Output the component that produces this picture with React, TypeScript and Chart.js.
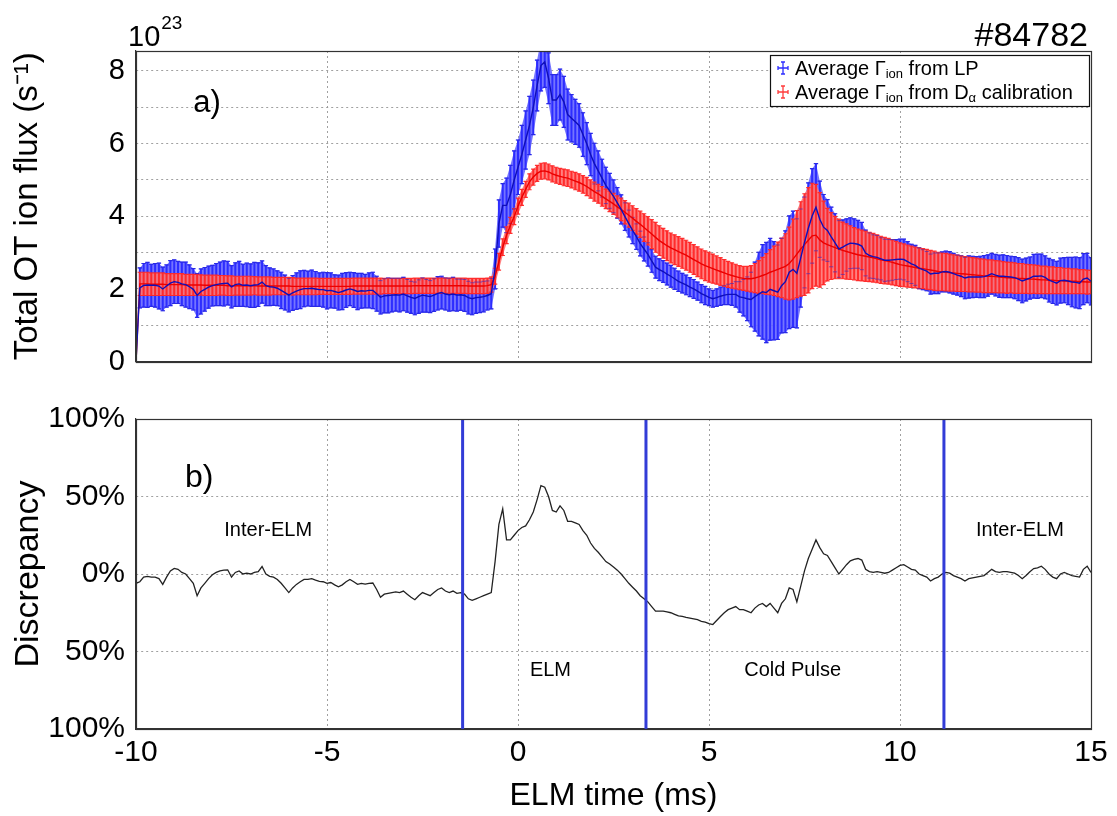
import React, { useEffect, useRef } from 'react';
import { Chart, registerables } from 'chart.js';

Chart.register(...registerables);

// ---------------- data ----------------
// sampling grid of the averaged ELM time (ms)
const T_START = -10;
const T_STEP = 0.1;

// Average ion flux from Langmuir probes (1e23 s^-1)
const LP_MEAN = [
  0, 2.03, 2.10, 2.11, 2.10, 2.10, 2.08, 2.00, 2.08, 2.16,
  2.20, 2.18, 2.14, 2.12, 2.06, 1.99, 1.82, 1.93, 1.99, 2.05,
  2.09, 2.12, 2.14, 2.15, 2.16, 2.06, 2.12, 2.14, 2.10, 2.11,
  2.09, 2.11, 2.12, 2.19, 2.09, 2.06, 2.05, 2.02, 1.96, 1.90,
  1.83, 1.89, 1.94, 1.98, 2.01, 2.01, 2.02, 2.00, 1.98, 1.98,
  1.95, 1.96, 1.93, 1.90, 1.93, 1.97, 2.00, 1.97, 1.93, 1.95,
  1.94, 1.96, 1.96, 1.87, 1.77, 1.81, 1.82, 1.83, 1.84, 1.83,
  1.86, 1.81, 1.77, 1.74, 1.79, 1.83, 1.81, 1.79, 1.83, 1.88,
  1.90, 1.86, 1.84, 1.86, 1.83, 1.84, 1.82, 1.76, 1.73, 1.76,
  1.77, 1.79, 1.82, 1.87, 2.55, 3.80, 4.30, 4.30, 4.60, 5.00,
  5.35, 5.70, 6.10, 6.50, 7.00, 7.60, 8.15, 8.25, 7.80, 7.20,
  7.20, 7.35, 7.15, 6.80, 6.70, 6.60, 6.50, 6.25, 6.00, 5.70,
  5.45, 5.25, 5.05, 4.85, 4.70, 4.55, 4.37, 4.19, 3.99, 3.80,
  3.61, 3.44, 3.25, 3.10, 2.95, 2.77, 2.60, 2.53, 2.48, 2.41,
  2.35, 2.28, 2.21, 2.16, 2.11, 2.05, 2.00, 1.94, 1.87, 1.82,
  1.77, 1.73, 1.76, 1.80, 1.83, 1.85, 1.85, 1.85, 1.78, 1.76,
  1.73, 1.71, 1.79, 1.86, 1.92, 1.90, 1.99, 1.95, 1.91, 2.09,
  2.20, 2.46, 2.54, 2.43, 2.85, 3.28, 3.67, 4.01, 4.25, 3.92,
  3.70, 3.61, 3.43, 3.27, 3.10, 3.15, 3.21, 3.26, 3.25, 3.23,
  3.18, 2.99, 2.92, 2.89, 2.87, 2.83, 2.79, 2.79, 2.80, 2.81,
  2.82, 2.81, 2.75, 2.69, 2.65, 2.57, 2.53, 2.49, 2.41, 2.43,
  2.43, 2.47, 2.48, 2.46, 2.42, 2.38, 2.35, 2.30, 2.33, 2.33,
  2.33, 2.33, 2.34, 2.37, 2.42, 2.38, 2.35, 2.35, 2.34, 2.33,
  2.31, 2.27, 2.22, 2.26, 2.30, 2.35, 2.35, 2.36, 2.32, 2.24,
  2.20, 2.16, 2.23, 2.24, 2.22, 2.19, 2.18, 2.16, 2.27, 2.30,
  2.21,
];

const LP_ERR = [
  0, 0.55, 0.60, 0.62, 0.58, 0.60, 0.63, 0.60, 0.58, 0.62,
  0.60, 0.58, 0.60, 0.62, 0.60, 0.57, 0.60, 0.62, 0.60, 0.58,
  0.56, 0.58, 0.60, 0.62, 0.60, 0.58, 0.60, 0.62, 0.58, 0.60,
  0.60, 0.62, 0.60, 0.58, 0.55, 0.52, 0.50, 0.48, 0.50, 0.48,
  0.46, 0.48, 0.50, 0.52, 0.50, 0.48, 0.50, 0.48, 0.46, 0.48,
  0.50, 0.48, 0.46, 0.48, 0.50, 0.48, 0.46, 0.48, 0.50, 0.48,
  0.46, 0.48, 0.50, 0.48, 0.46, 0.47, 0.48, 0.46, 0.45, 0.46,
  0.46, 0.45, 0.44, 0.45, 0.46, 0.47, 0.45, 0.44, 0.45, 0.46,
  0.45, 0.44, 0.45, 0.46, 0.44, 0.43, 0.44, 0.45, 0.44, 0.43,
  0.42, 0.42, 0.40, 0.42, 0.55, 0.65, 0.60, 0.75, 0.80, 0.80,
  0.75, 0.80, 0.80, 0.80, 0.75, 0.70, 0.70, 0.70, 0.70, 0.70,
  0.70, 0.70, 0.70, 0.70, 0.65, 0.62, 0.60, 0.60, 0.58, 0.58,
  0.56, 0.55, 0.52, 0.50, 0.48, 0.45, 0.42, 0.40, 0.38, 0.37,
  0.36, 0.35, 0.34, 0.33, 0.32, 0.31, 0.30, 0.30, 0.30, 0.30,
  0.30, 0.29, 0.28, 0.27, 0.27, 0.26, 0.26, 0.25, 0.25, 0.25,
  0.23, 0.23, 0.24, 0.25, 0.26, 0.28, 0.30, 0.35, 0.42, 0.50,
  0.60, 0.75, 0.95, 1.15, 1.30, 1.38, 1.40, 1.35, 1.30, 1.30,
  1.40, 1.55, 1.60, 1.50, 1.35, 1.25, 1.25, 1.30, 1.20, 1.05,
  0.90, 0.85, 0.82, 0.80, 0.78, 0.75, 0.72, 0.70, 0.68, 0.66,
  0.65, 0.63, 0.62, 0.60, 0.60, 0.58, 0.58, 0.57, 0.56, 0.55,
  0.55, 0.56, 0.55, 0.54, 0.55, 0.56, 0.55, 0.54, 0.55, 0.56,
  0.56, 0.55, 0.56, 0.57, 0.56, 0.55, 0.56, 0.57, 0.58, 0.57,
  0.56, 0.57, 0.58, 0.57, 0.56, 0.57, 0.58, 0.59, 0.58, 0.57,
  0.58, 0.59, 0.60, 0.59, 0.58, 0.60, 0.61, 0.60, 0.59, 0.60,
  0.60, 0.60, 0.62, 0.62, 0.65, 0.68, 0.70, 0.70, 0.70, 0.68,
  0.65,
];

// Average ion flux from D-alpha calibration (1e23 s^-1)
const DA_MEAN = [
  0, 2.14, 2.14, 2.14, 2.13, 2.13, 2.13, 2.13, 2.12, 2.12,
  2.12, 2.12, 2.12, 2.11, 2.11, 2.11, 2.11, 2.11, 2.10, 2.10,
  2.10, 2.10, 2.10, 2.10, 2.09, 2.09, 2.09, 2.09, 2.09, 2.09,
  2.09, 2.09, 2.08, 2.08, 2.08, 2.08, 2.08, 2.08, 2.08, 2.08,
  2.08, 2.07, 2.07, 2.07, 2.07, 2.07, 2.07, 2.07, 2.07, 2.07,
  2.07, 2.07, 2.07, 2.07, 2.07, 2.07, 2.07, 2.08, 2.08, 2.08,
  2.08, 2.08, 2.08, 2.08, 2.08, 2.08, 2.08, 2.08, 2.08, 2.08,
  2.08, 2.08, 2.08, 2.09, 2.09, 2.09, 2.09, 2.09, 2.09, 2.09,
  2.09, 2.09, 2.09, 2.09, 2.09, 2.09, 2.09, 2.08, 2.08, 2.08,
  2.08, 2.08, 2.09, 2.12, 2.35, 2.75, 3.15, 3.48, 3.75, 3.99,
  4.28, 4.52, 4.74, 4.95, 5.08, 5.18, 5.24, 5.25, 5.22, 5.17,
  5.13, 5.10, 5.07, 5.05, 5.01, 4.97, 4.93, 4.88, 4.82, 4.75,
  4.68, 4.62, 4.55, 4.48, 4.41, 4.34, 4.26, 4.19, 4.11, 4.03,
  3.95, 3.86, 3.78, 3.69, 3.60, 3.51, 3.42, 3.33, 3.26, 3.19,
  3.13, 3.08, 3.03, 2.98, 2.93, 2.87, 2.81, 2.75, 2.69, 2.64,
  2.60, 2.56, 2.52, 2.48, 2.44, 2.40, 2.37, 2.34, 2.31, 2.29,
  2.28, 2.28, 2.30, 2.33, 2.37, 2.41, 2.46, 2.50, 2.54, 2.58,
  2.62, 2.70, 2.82, 2.96, 3.10, 3.22, 3.34, 3.46, 3.48, 3.35,
  3.27, 3.22, 3.18, 3.14, 3.10, 3.06, 3.03, 3.00, 2.97, 2.94,
  2.92, 2.90, 2.88, 2.86, 2.83, 2.80, 2.78, 2.76, 2.73, 2.70,
  2.67, 2.65, 2.63, 2.61, 2.59, 2.57, 2.56, 2.54, 2.52, 2.50,
  2.48, 2.47, 2.46, 2.45, 2.44, 2.43, 2.42, 2.41, 2.40, 2.39,
  2.38, 2.37, 2.36, 2.35, 2.35, 2.34, 2.33, 2.32, 2.31, 2.31,
  2.30, 2.29, 2.29, 2.28, 2.27, 2.27, 2.26, 2.25, 2.25, 2.24,
  2.24, 2.23, 2.23, 2.22, 2.22, 2.21, 2.21, 2.20, 2.20, 2.19,
  2.19,
];

const DA_ERR = [
  0, 0.32, 0.32, 0.32, 0.31, 0.31, 0.31, 0.31, 0.30, 0.30,
  0.30, 0.30, 0.30, 0.29, 0.29, 0.29, 0.29, 0.28, 0.28, 0.28,
  0.28, 0.28, 0.27, 0.27, 0.27, 0.27, 0.26, 0.26, 0.26, 0.26,
  0.26, 0.25, 0.25, 0.25, 0.25, 0.25, 0.24, 0.24, 0.24, 0.24,
  0.24, 0.24, 0.23, 0.23, 0.23, 0.23, 0.23, 0.23, 0.22, 0.22,
  0.22, 0.22, 0.22, 0.22, 0.22, 0.22, 0.22, 0.22, 0.22, 0.22,
  0.22, 0.22, 0.22, 0.22, 0.22, 0.21, 0.21, 0.21, 0.21, 0.21,
  0.21, 0.21, 0.21, 0.21, 0.21, 0.21, 0.21, 0.21, 0.21, 0.21,
  0.21, 0.21, 0.21, 0.21, 0.21, 0.21, 0.21, 0.21, 0.21, 0.21,
  0.21, 0.21, 0.21, 0.21, 0.22, 0.23, 0.23, 0.23, 0.22, 0.22,
  0.22, 0.22, 0.22, 0.22, 0.22, 0.22, 0.22, 0.22, 0.22, 0.22,
  0.22, 0.22, 0.23, 0.23, 0.23, 0.24, 0.24, 0.24, 0.25, 0.25,
  0.26, 0.26, 0.27, 0.27, 0.28, 0.29, 0.30, 0.31, 0.32, 0.33,
  0.34, 0.35, 0.36, 0.38, 0.39, 0.40, 0.41, 0.41, 0.41, 0.41,
  0.41, 0.41, 0.41, 0.41, 0.41, 0.41, 0.41, 0.41, 0.41, 0.41,
  0.41, 0.40, 0.39, 0.38, 0.37, 0.36, 0.35, 0.34, 0.33, 0.33,
  0.34, 0.36, 0.40, 0.45, 0.50, 0.56, 0.62, 0.68, 0.75, 0.82,
  0.90, 1.00, 1.10, 1.20, 1.30, 1.40, 1.45, 1.45, 1.40, 1.30,
  1.15, 1.00, 0.92, 0.86, 0.82, 0.78, 0.76, 0.74, 0.72, 0.71,
  0.70, 0.69, 0.68, 0.67, 0.66, 0.65, 0.64, 0.63, 0.62, 0.61,
  0.60, 0.59, 0.58, 0.57, 0.56, 0.56, 0.55, 0.55, 0.54, 0.54,
  0.53, 0.52, 0.52, 0.51, 0.50, 0.50, 0.49, 0.48, 0.48, 0.47,
  0.47, 0.46, 0.46, 0.45, 0.45, 0.44, 0.44, 0.43, 0.43, 0.42,
  0.42, 0.41, 0.41, 0.40, 0.40, 0.39, 0.39, 0.38, 0.38, 0.37,
  0.37, 0.36, 0.36, 0.35, 0.35, 0.34, 0.34, 0.33, 0.33, 0.33,
  0.32,
];

// Discrepancy between the two estimates (%)
const DISCREPANCY = [
  -6, -5, -2, -1.5, -2, -2, -3, -6.7, -2, 2,
  3.6, 3, 1, 0, -3, -6, -14, -9, -6, -3,
  -0.5, 1, 2, 2.5, 2.7, -2, 1, 2, 0, 0.5,
  0, 1, 1.5, 4.8, 0, -1.5, -2, -3.5, -6, -9,
  -12, -9, -6.7, -5, -3.5, -3.5, -3, -4, -4.8, -5,
  -6, -5.5, -7, -8.3, -7, -5, -3.5, -5, -6.7, -6,
  -6.5, -6, -5.8, -10, -15, -13, -12.5, -12, -11.5, -12,
  -11, -13, -15, -16.6, -14, -12, -13, -14, -12, -10,
  -9, -11, -12, -11, -12.5, -12, -13, -16, -17, -16,
  -15, -14, -13, -12, 8, 32, 42, 22, 22, 25,
  28, 30, 31, 35, 40, 48, 57, 56, 50, 41,
  40, 44, 41, 34, 34, 33, 32, 28, 25, 20,
  16.5, 14, 11, 8, 6.5, 4.5, 2.5, 0, -3, -6,
  -8.5, -11, -14, -16, -18, -21, -24, -24, -24, -24.5,
  -25, -26, -27, -27.4, -28, -28.5, -29, -29.5, -30.5, -31,
  -32, -32.6, -30, -27.4, -25, -23, -22, -21, -23, -23,
  -24, -25, -22, -20, -19, -21, -19, -22, -25, -19,
  -16, -9, -10, -18, -8, 2, 10, 16, 22, 17,
  13, 12, 8, 4, 0, 3, 6, 8.5, 9.5, 10,
  9, 3, 1.5, 1, 1.5, 1, 0.5, 1, 2.5, 4,
  5.5, 6, 4.5, 3, 2.5, 0, -1, -2, -4.5, -3,
  -2, 0, 1, 0.5, -1, -2, -3, -4.5, -3, -2.5,
  -2, -1.5, -1, 1, 3, 1.5, 1, 1.5, 1.5, 1,
  0.5, -1, -3, -1, 1.5, 3.5, 4, 5, 3, 0,
  -2, -3, 0, 1, 0, -1, -1.5, -2, 3, 5,
  1,
];

const TIME = LP_MEAN.map((_, i) => Math.round((T_START + i * T_STEP) * 10) / 10);

const X_TICKS = [-10, -5, 0, 5, 10, 15];
const FLUX_GRID = [0, 1, 2, 3, 4, 5, 6, 7, 8];
const FLUX_LABELS = [0, 2, 4, 6, 8];
const DISC_TICKS = [-100, -50, 0, 50, 100];
const PHASE_BOUNDARIES = [-1.45, 3.35, 11.15];
const PHASE_LABELS = [
  { text: 'Inter-ELM', t: -6.54, v: 27.8 },
  { text: 'Inter-ELM', t: 13.14, v: 27.8 },
  { text: 'ELM', t: 0.85, v: -62 },
  { text: 'Cold Pulse', t: 7.19, v: -62 },
];
const SHOT = '#84782';

// ---------------- styles ----------------
const FONT = "'Liberation Sans', Arial, Helvetica, sans-serif";
const GRID = 'rgba(150,150,150,0.9)';
const FRAME = '#333';
const BLUE_BAR = 'rgb(45,45,255)';
const BLUE_BAND = 'rgba(105,105,255,0.92)';
const BLUE_LINE = 'rgb(15,15,185)';
const BLUE_CAP_OVER = 'rgba(40,40,200,0.55)';
const RED_BAR = 'rgba(255,40,40,0.95)';
const RED_BAND = 'rgba(255,115,115,0.9)';
const RED_LINE = 'rgb(235,0,0)';
const PHASE_LINE = 'rgb(50,60,215)';

function barPixels(chart: any, ds: any) {
  const xs = chart.scales.x;
  const ys = chart.scales.y;
  const pts: { x: number; hi: number; lo: number }[] = [];
  ds.data.forEach((p: any, i: number) => {
    const e = ds.errors[i];
    if (!e) return;
    pts.push({
      x: xs.getPixelForValue(p.x),
      hi: ys.getPixelForValue(p.y + e),
      lo: ys.getPixelForValue(p.y - e),
    });
  });
  return pts;
}

function strokeCaps(ctx: any, pts: any[], cap: number) {
  ctx.beginPath();
  pts.forEach((p) => {
    ctx.moveTo(p.x - cap, p.hi);
    ctx.lineTo(p.x + cap, p.hi);
    ctx.moveTo(p.x - cap, p.lo);
    ctx.lineTo(p.x + cap, p.lo);
  });
  ctx.stroke();
}

// error bars for every dataset that carries `errors`, drawn before the mean lines
const errorBarPlugin = {
  id: 'errorBars',
  beforeDatasetsDraw(chart: any) {
    const { ctx, chartArea } = chart;
    const sets = chart.data.datasets
      .filter((d: any) => d.errors)
      .sort((a: any, b: any) => a.barOrder - b.barOrder);
    ctx.save();
    ctx.beginPath();
    ctx.rect(chartArea.left, chartArea.top, chartArea.right - chartArea.left, chartArea.bottom - chartArea.top);
    ctx.clip();
    sets.forEach((ds: any) => {
      const pts = barPixels(chart, ds);
      ctx.fillStyle = ds.bandColor;
      ctx.beginPath();
      pts.forEach((p, i) => (i ? ctx.lineTo(p.x, p.hi) : ctx.moveTo(p.x, p.hi)));
      for (let i = pts.length - 1; i >= 0; i--) ctx.lineTo(pts[i].x, pts[i].lo);
      ctx.closePath();
      ctx.fill();
      ctx.strokeStyle = ds.errColor;
      ctx.lineWidth = 2;
      ctx.beginPath();
      pts.forEach((p) => {
        ctx.moveTo(p.x, p.hi);
        ctx.lineTo(p.x, p.lo);
      });
      ctx.stroke();
      ctx.lineWidth = 1.2;
      strokeCaps(ctx, pts, 2.2);
    });
    // caps of the first series stay visible through the second band
    const first = sets[0];
    if (first && first.capOver) {
      ctx.strokeStyle = first.capOver;
      ctx.lineWidth = 1;
      strokeCaps(ctx, barPixels(chart, first), 2);
    }
    ctx.restore();
  },
};

function drawFrame(chart: any) {
  const { ctx, chartArea } = chart;
  ctx.save();
  ctx.strokeStyle = FRAME;
  ctx.lineWidth = 1.2;
  ctx.strokeRect(
    Math.round(chartArea.left) + 0.5,
    Math.round(chartArea.top) + 0.5,
    Math.round(chartArea.right - chartArea.left),
    Math.round(chartArea.bottom - chartArea.top)
  );
  ctx.restore();
}

const panelAOverlay = {
  id: 'panelAOverlay',
  afterDraw(chart: any) {
    const { ctx, chartArea, scales } = chart;
    drawFrame(chart);
    ctx.save();
    ctx.fillStyle = '#000';
    ctx.textBaseline = 'alphabetic';
    ctx.textAlign = 'left';
    ctx.font = `29px ${FONT}`;
    ctx.fillText('10', chartArea.left - 8, 46);
    const w10 = ctx.measureText('10').width;
    ctx.font = `19px ${FONT}`;
    ctx.fillText('23', chartArea.left - 8 + w10 + 1, 29);
    ctx.textAlign = 'right';
    ctx.font = `34px ${FONT}`;
    ctx.fillText(SHOT, chartArea.right - 3, 46);
    ctx.textAlign = 'left';
    ctx.font = `31px ${FONT}`;
    ctx.fillText('a)', scales.x.getPixelForValue(-8.5), scales.y.getPixelForValue(6.88));

    // legend
    const bx = 770.5, by = 55.5, bw = 319, bh = 51;
    ctx.fillStyle = '#fff';
    ctx.fillRect(bx, by, bw, bh);
    ctx.strokeStyle = '#111';
    ctx.lineWidth = 1.2;
    ctx.strokeRect(bx, by, bw, bh);
    const rows = [
      { color: BLUE_BAR, base: 75, parts: [['Average Γ', 0], ['ion', 1], [' from LP', 0]] },
      { color: 'rgb(255,60,60)', base: 99, parts: [['Average Γ', 0], ['ion', 1], [' from D', 0], ['α', 1], [' calibration', 0]] },
    ];
    rows.forEach((r) => {
      const mx = 783, my = r.base - 7;
      ctx.strokeStyle = r.color;
      ctx.lineWidth = 1.3;
      ctx.beginPath();
      ctx.moveTo(mx - 5, my); ctx.lineTo(mx + 5, my);
      ctx.moveTo(mx, my - 6); ctx.lineTo(mx, my + 6);
      ctx.moveTo(mx - 2, my - 6); ctx.lineTo(mx + 2, my - 6);
      ctx.moveTo(mx - 2, my + 6); ctx.lineTo(mx + 2, my + 6);
      ctx.moveTo(mx - 5, my - 2); ctx.lineTo(mx - 5, my + 2);
      ctx.moveTo(mx + 5, my - 2); ctx.lineTo(mx + 5, my + 2);
      ctx.stroke();
      let x = 795;
      ctx.fillStyle = '#000';
      (r.parts as any[]).forEach(([txt, sub]) => {
        ctx.font = sub ? `13px ${FONT}` : `20px ${FONT}`;
        ctx.fillText(txt, x, r.base + (sub ? 3 : 0));
        x += ctx.measureText(txt).width;
      });
    });
    ctx.restore();
  },
};

const panelBOverlay = {
  id: 'panelBOverlay',
  afterDraw(chart: any) {
    const { ctx, scales } = chart;
    drawFrame(chart);
    ctx.save();
    ctx.fillStyle = '#000';
    ctx.textAlign = 'left';
    ctx.textBaseline = 'alphabetic';
    ctx.font = `32px ${FONT}`;
    ctx.fillText('b)', scales.x.getPixelForValue(-8.72), scales.y.getPixelForValue(56));
    ctx.textAlign = 'center';
    ctx.textBaseline = 'middle';
    ctx.font = `20px ${FONT}`;
    PHASE_LABELS.forEach((l) => {
      ctx.fillText(l.text, scales.x.getPixelForValue(l.t), scales.y.getPixelForValue(l.v));
    });
    ctx.restore();
  },
};

const gridCommon = { color: GRID, drawTicks: false, lineWidth: 1 };
const borderCommon = { display: true, color: FRAME, width: 1.2, dash: [2, 3] };

export default function App() {
  const refA = useRef<HTMLCanvasElement | null>(null);
  const refB = useRef<HTMLCanvasElement | null>(null);

  useEffect(() => {
    if (!refA.current || !refB.current) return;

    const chartA = new Chart(refA.current, {
      type: 'line',
      data: {
        datasets: [
          {
            label: 'Average Γion from LP',
            data: TIME.map((t, i) => ({ x: t, y: LP_MEAN[i] })),
            errors: LP_ERR,
            barOrder: 0,
            errColor: BLUE_BAR,
            bandColor: BLUE_BAND,
            capOver: BLUE_CAP_OVER,
            borderColor: BLUE_LINE,
            borderWidth: 1.4,
            pointRadius: 0,
            tension: 0,
          } as any,
          {
            label: 'Average Γion from Dα calibration',
            data: TIME.map((t, i) => ({ x: t, y: DA_MEAN[i] })),
            errors: DA_ERR,
            barOrder: 1,
            errColor: RED_BAR,
            bandColor: RED_BAND,
            borderColor: RED_LINE,
            borderWidth: 1.4,
            pointRadius: 0,
            tension: 0,
          } as any,
        ],
      },
      options: {
        animation: false,
        responsive: false,
        devicePixelRatio: 1,
        layout: { padding: { left: 0, right: 26, top: 51, bottom: 19 } },
        plugins: { legend: { display: false }, tooltip: { enabled: false }, title: { display: false } },
        scales: {
          x: {
            type: 'linear',
            min: -10,
            max: 15,
            afterBuildTicks: (s: any) => { s.ticks = X_TICKS.map((v) => ({ value: v })); },
            afterFit: (s: any) => { s.height = 0; },
            ticks: { display: false },
            grid: gridCommon,
            border: borderCommon,
          },
          y: {
            type: 'linear',
            min: 0,
            max: 8.55,
            afterBuildTicks: (s: any) => { s.ticks = FLUX_GRID.map((v) => ({ value: v })); },
            afterFit: (s: any) => { s.width = 136; },
            ticks: {
              font: { family: FONT, size: 29 },
              color: '#000',
              padding: 11,
              callback: (v: any) => (FLUX_LABELS.includes(Number(v)) ? String(v) : ''),
            },
            grid: gridCommon,
            border: borderCommon,
            title: {
              display: true,
              text: 'Total OT ion flux (s⁻¹)',
              font: { family: FONT, size: 33 },
              color: '#000',
              padding: { top: 8, bottom: 0 },
            },
          },
        },
      } as any,
      plugins: [errorBarPlugin, panelAOverlay],
    });

    const chartB = new Chart(refB.current, {
      type: 'line',
      data: {
        datasets: [
          ...PHASE_BOUNDARIES.map((b) => ({
            label: 'phase',
            data: [{ x: b, y: -100 }, { x: b, y: 100 }],
            borderColor: PHASE_LINE,
            borderWidth: 3,
            pointRadius: 0,
          })),
          {
            label: 'Discrepancy',
            data: TIME.map((t, i) => ({ x: t, y: DISCREPANCY[i] })),
            borderColor: '#222',
            borderWidth: 1.3,
            pointRadius: 0,
            tension: 0,
          },
        ],
      },
      options: {
        animation: false,
        responsive: false,
        devicePixelRatio: 1,
        layout: { padding: { left: 0, right: 26, top: 19, bottom: 0 } },
        plugins: { legend: { display: false }, tooltip: { enabled: false }, title: { display: false } },
        scales: {
          x: {
            type: 'linear',
            min: -10,
            max: 15,
            afterBuildTicks: (s: any) => { s.ticks = X_TICKS.map((v) => ({ value: v })); },
            afterFit: (s: any) => { s.height = 87; },
            ticks: { font: { family: FONT, size: 30 }, color: '#000', padding: 6, maxRotation: 0, autoSkip: false },
            grid: gridCommon,
            border: borderCommon,
            title: {
              display: true,
              text: 'ELM time (ms)',
              font: { family: FONT, size: 32 },
              color: '#000',
              padding: { top: 0, bottom: 1 },
            },
          },
          y: {
            type: 'linear',
            min: -100,
            max: 100,
            afterBuildTicks: (s: any) => { s.ticks = DISC_TICKS.map((v) => ({ value: v })); },
            afterFit: (s: any) => { s.width = 136; },
            ticks: {
              font: { family: FONT, size: 30 },
              color: '#000',
              padding: 11,
              callback: (v: any) => `${Math.abs(Number(v))}%`,
            },
            grid: gridCommon,
            border: borderCommon,
            title: {
              display: true,
              text: 'Discrepancy',
              font: { family: FONT, size: 34 },
              color: '#000',
              padding: { top: 8, bottom: 0 },
            },
          },
        },
      } as any,
      plugins: [panelBOverlay],
    });

    return () => {
      chartA.destroy();
      chartB.destroy();
    };
  }, []);

  return (
    <div style={{ position: 'absolute', left: 0, top: 0, width: 1117, height: 816, background: '#fff', overflow: 'hidden' }}>
      <canvas ref={refA} width={1117} height={390} style={{ position: 'absolute', left: 0, top: 0, width: 1117, height: 390 }} />
      <canvas ref={refB} width={1117} height={426} style={{ position: 'absolute', left: 0, top: 390, width: 1117, height: 426 }} />
    </div>
  );
}
